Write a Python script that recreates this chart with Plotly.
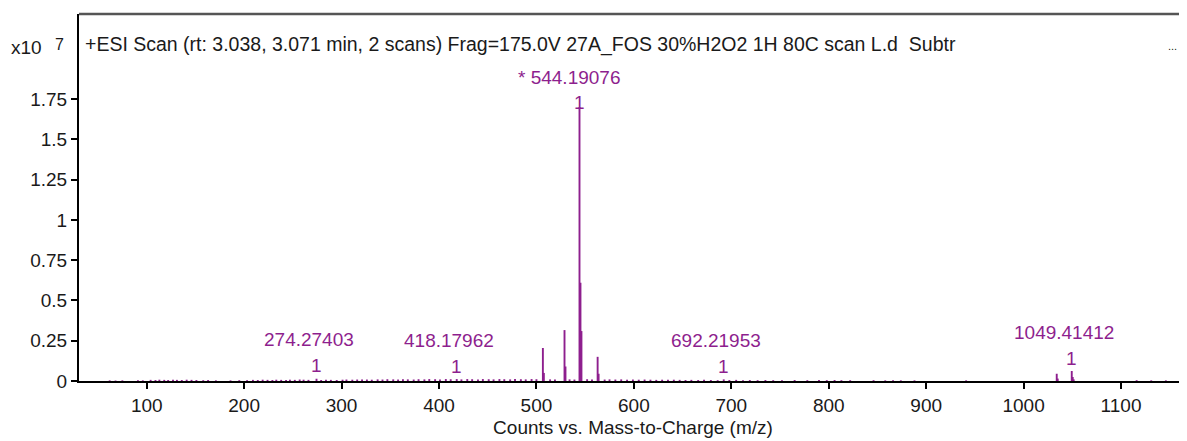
import plotly.graph_objects as go

# ---- data (intensities in units of 1e7 counts) ----
main_mz = [506.6, 507.6, 528.8, 529.8, 544.19076, 545.19, 546.19, 562.8, 563.8,
           1034.0, 1035.0, 1049.41412, 1050.41, 1051.41]
main_int = [0.205, 0.05, 0.316, 0.09, 1.70, 0.61, 0.31, 0.15, 0.045,
            0.045, 0.015, 0.062, 0.025, 0.01]

labeled_mz = [274.27403, 418.17962, 544.19076, 692.21953, 1049.41412]
labeled_int = [0.014, 0.012, 1.70, 0.010, 0.062]
labeled_text = ["274.27403", "418.17962", "* 544.19076", "692.21953", "1049.41412"]
labeled_charge = ["1", "1", "1", "1", "1"]

noise_mz = [62, 68, 75, 91, 96, 104, 109, 113, 118, 122, 127, 131, 136, 141, 146,
            151, 158, 163, 171, 186, 195, 203, 209, 214, 219, 224, 229, 233, 238,
            243, 247, 252, 257, 261, 266, 279, 284, 289, 295, 301, 305, 311, 316,
            321, 326, 331, 337, 342, 347, 353, 358, 363, 368, 374, 379, 385, 390,
            396, 401, 407, 412, 423, 429, 434, 440, 445, 451, 456, 462, 467, 473,
            478, 484, 489, 495, 500, 514, 519, 534, 539, 552, 557, 570, 575, 581,
            587, 593, 599, 605, 611, 617, 623, 629, 635, 641, 647, 653, 659, 666,
            672, 679, 686, 698, 705, 712, 719, 727, 735, 743, 752, 765, 778, 790,
            798, 806, 813, 822, 846, 858, 866, 874, 888, 941, 1116, 1131, 1146]
noise_int = [0.004, 0.003, 0.004, 0.005, 0.004, 0.007, 0.006, 0.008, 0.007, 0.006,
             0.008, 0.007, 0.006, 0.008, 0.007, 0.006, 0.005, 0.006, 0.004, 0.004,
             0.005, 0.005, 0.007, 0.006, 0.008, 0.007, 0.006, 0.008, 0.007, 0.006,
             0.008, 0.007, 0.009, 0.008, 0.007, 0.006, 0.008, 0.007, 0.006, 0.008,
             0.009, 0.008, 0.009, 0.010, 0.009, 0.008, 0.010, 0.009, 0.011, 0.010,
             0.009, 0.011, 0.010, 0.009, 0.011, 0.010, 0.012, 0.011, 0.010, 0.012,
             0.011, 0.010, 0.012, 0.011, 0.010, 0.012, 0.011, 0.010, 0.012, 0.011,
             0.010, 0.012, 0.011, 0.010, 0.012, 0.011, 0.010, 0.009, 0.010, 0.009,
             0.011, 0.010, 0.009, 0.010, 0.009, 0.010, 0.008, 0.009, 0.008, 0.009,
             0.008, 0.007, 0.008, 0.007, 0.008, 0.007, 0.006, 0.007, 0.006, 0.007,
             0.006, 0.005, 0.006, 0.007, 0.005, 0.006, 0.005, 0.006, 0.005, 0.005,
             0.006, 0.005, 0.006, 0.005, 0.006, 0.005, 0.005, 0.005, 0.004, 0.005,
             0.004, 0.004, 0.004, 0.005, 0.004, 0.004]

y_tickvals = [0, 0.25, 0.5, 0.75, 1, 1.25, 1.5, 1.75]
y_ticktext = ["0", "0.25", "0.5", "0.75", "1", "1.25", "1.5", "1.75"]
x_tickvals = [100, 200, 300, 400, 500, 600, 700, 800, 900, 1000, 1100]

title_text = "+ESI Scan (rt: 3.038, 3.071 min, 2 scans) Frag=175.0V 27A_FOS 30%H2O2 1H 80C scan L.d  Subtr"

PURPLE = "#8e1f8e"
TEXT = "#1a1a1a"
FONT = "Liberation Sans, Arial, sans-serif"

# ---- build stick spectrum ----
all_mz = noise_mz + [m for m in labeled_mz if m not in main_mz] + main_mz
all_int = noise_int + [i for m, i in zip(labeled_mz, labeled_int) if m not in main_mz] + main_int
xs, ys = [], []
for m, h in zip(all_mz, all_int):
    xs += [m, m, None]
    ys += [0, h, None]

fig = go.Figure()
fig.add_trace(go.Scatter(x=xs, y=ys, mode="lines",
                         line=dict(color=PURPLE, width=1.9),
                         hoverinfo="skip", showlegend=False))

# peak labels
for m, h, t, c in zip(labeled_mz, labeled_int, labeled_text, labeled_charge):
    big = h > 1
    fig.add_annotation(x=m, y=h, text=c, showarrow=False,
                       font=dict(family=FONT, size=19, color=PURPLE),
                       yanchor="middle", yshift=(5 if big else 13))
    fig.add_annotation(x=m, y=h, text=t, showarrow=False,
                       font=dict(family=FONT, size=19, color=PURPLE),
                       yanchor="middle", xshift=(-10 if big else -8),
                       yshift=(30 if big else 39))

# header text
fig.add_annotation(xref="paper", yref="paper", x=0, y=1, xanchor="left",
                   yanchor="middle", xshift=4, yshift=-30, text=title_text,
                   showarrow=False, font=dict(family=FONT, size=19.5, color=TEXT))
fig.add_annotation(xref="paper", yref="paper", x=1, y=1, xanchor="right",
                   yanchor="middle", xshift=-8, yshift=-32, text="...",
                   showarrow=False, font=dict(family=FONT, size=11, color=TEXT))
fig.add_annotation(xref="paper", yref="paper", x=0, y=1, xanchor="left",
                   yanchor="middle", xshift=-70, yshift=-33, text="x10",
                   showarrow=False, font=dict(family=FONT, size=19, color=TEXT))
fig.add_annotation(xref="paper", yref="paper", x=0, y=1, xanchor="center",
                   yanchor="middle", xshift=-20, yshift=-30, text="7",
                   showarrow=False, font=dict(family=FONT, size=16, color=TEXT))

# top border
fig.add_shape(type="line", xref="paper", yref="paper", x0=0, x1=1, y0=1, y1=1,
              line=dict(color="#555555", width=2.5))

# page has an 8px body margin: figure is 1179x433 so it fits the 1187x441 window
fig.update_layout(
    width=1179, height=433,
    margin=dict(l=71, r=0, t=6, b=60),
    paper_bgcolor="white", plot_bgcolor="white",
    font=dict(family=FONT, size=19, color=TEXT),
    xaxis=dict(range=[30.5, 1167.7], tickvals=x_tickvals, ticks="outside",
               ticklen=6, tickwidth=1.5, tickcolor="black",
               showline=True, linecolor="black", linewidth=2,
               showgrid=False, zeroline=False,
               tickfont=dict(family=FONT, size=19, color=TEXT),
               title=dict(text="Counts vs. Mass-to-Charge (m/z)", standoff=6,
                          font=dict(family=FONT, size=19, color=TEXT))),
    yaxis=dict(range=[0, 2.278], tickvals=y_tickvals, ticktext=y_ticktext,
               ticks="outside", ticklen=6, tickwidth=1.5, tickcolor="black",
               showline=True, linecolor="black", linewidth=2,
               showgrid=False, zeroline=False,
               tickfont=dict(family=FONT, size=19, color=TEXT)),
)

fig.write_html("out.html")
